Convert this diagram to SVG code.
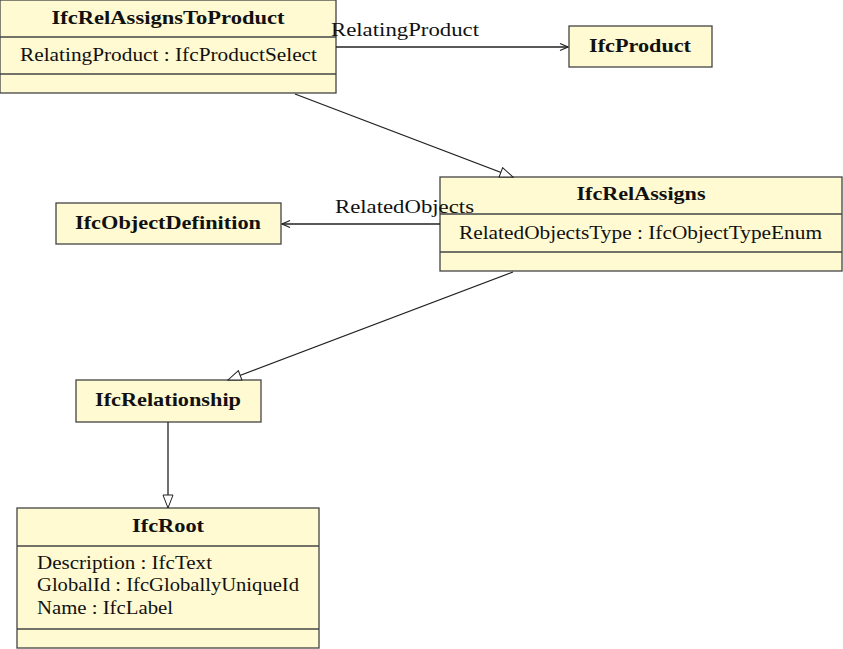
<svg xmlns="http://www.w3.org/2000/svg" width="843" height="649" viewBox="0 0 843 649">
<defs>
<marker id="open" markerWidth="10" markerHeight="10" refX="9" refY="5" orient="auto" markerUnits="userSpaceOnUse">
<path d="M1,1.5 L9,5 L1,8.5" fill="none" stroke="#222" stroke-width="1.2"/>
</marker>
<marker id="tri" markerWidth="16" markerHeight="14" refX="14" refY="6" orient="auto" markerUnits="userSpaceOnUse">
<path d="M1,1 L14,6 L1,11 Z" fill="#fff" stroke="#222" stroke-width="1"/>
</marker>
</defs>
<style>
.box{fill:#fffad2;stroke:#444;stroke-width:1.3}
.sep{stroke:#444;stroke-width:1.3}
.t{font-family:"Liberation Serif","DejaVu Serif",serif;font-size:19px;fill:#111}
.b{font-weight:bold;text-anchor:middle}
.c{fill:none;stroke:#222;stroke-width:1.3}
</style>
<g id="IfcRelAssignsToProduct">
<rect class="box" x="0" y="0" width="336" height="93"/>
<line class="sep" x1="0" y1="37" x2="336" y2="37"/>
<line class="sep" x1="0" y1="74" x2="336" y2="74"/>
<text class="t b" x="168" y="24" textLength="233" lengthAdjust="spacingAndGlyphs">IfcRelAssignsToProduct</text>
<text class="t" x="20" y="61" textLength="297" lengthAdjust="spacingAndGlyphs">RelatingProduct : IfcProductSelect</text>
</g>
<g id="IfcProduct">
<rect class="box" x="569" y="26" width="143" height="41"/>
<text class="t b" x="640" y="52" textLength="102" lengthAdjust="spacingAndGlyphs">IfcProduct</text>
</g>
<g id="IfcRelAssigns">
<rect class="box" x="440" y="177" width="402" height="94"/>
<line class="sep" x1="440" y1="214" x2="842" y2="214"/>
<line class="sep" x1="440" y1="252" x2="842" y2="252"/>
<text class="t b" x="641" y="200" textLength="129" lengthAdjust="spacingAndGlyphs">IfcRelAssigns</text>
<text class="t" x="459" y="239" textLength="363" lengthAdjust="spacingAndGlyphs">RelatedObjectsType : IfcObjectTypeEnum</text>
</g>
<g id="IfcObjectDefinition">
<rect class="box" x="56" y="203" width="225" height="41"/>
<text class="t b" x="168" y="229" textLength="186" lengthAdjust="spacingAndGlyphs">IfcObjectDefinition</text>
</g>
<g id="IfcRelationship">
<rect class="box" x="76" y="380" width="185" height="42"/>
<text class="t b" x="168" y="406" textLength="146" lengthAdjust="spacingAndGlyphs">IfcRelationship</text>
</g>
<g id="IfcRoot">
<rect class="box" x="17" y="508" width="302" height="140"/>
<line class="sep" x1="17" y1="546" x2="319" y2="546"/>
<line class="sep" x1="17" y1="629" x2="319" y2="629"/>
<text class="t b" x="168" y="532" textLength="72" lengthAdjust="spacingAndGlyphs">IfcRoot</text>
<text class="t" x="37" y="569" textLength="175" lengthAdjust="spacingAndGlyphs">Description : IfcText</text>
<text class="t" x="37" y="591" textLength="262" lengthAdjust="spacingAndGlyphs">GlobalId : IfcGloballyUniqueId</text>
<text class="t" x="37" y="614" textLength="136" lengthAdjust="spacingAndGlyphs">Name : IfcLabel</text>
</g>
<g id="connectors">
<line class="c" x1="336" y1="47" x2="568" y2="47" marker-end="url(#open)"/>
<text class="t" x="331" y="36" textLength="148" lengthAdjust="spacingAndGlyphs">RelatingProduct</text>
<line class="c" x1="295" y1="94" x2="513" y2="177" marker-end="url(#tri)"/>
<line class="c" x1="440" y1="224" x2="282" y2="224" marker-end="url(#open)"/>
<text class="t" x="335" y="213" textLength="139" lengthAdjust="spacingAndGlyphs">RelatedObjects</text>
<line class="c" x1="513" y1="272" x2="228" y2="380" marker-end="url(#tri)"/>
<line class="c" x1="168" y1="422" x2="168" y2="508" marker-end="url(#tri)"/>
</g>
</svg>
